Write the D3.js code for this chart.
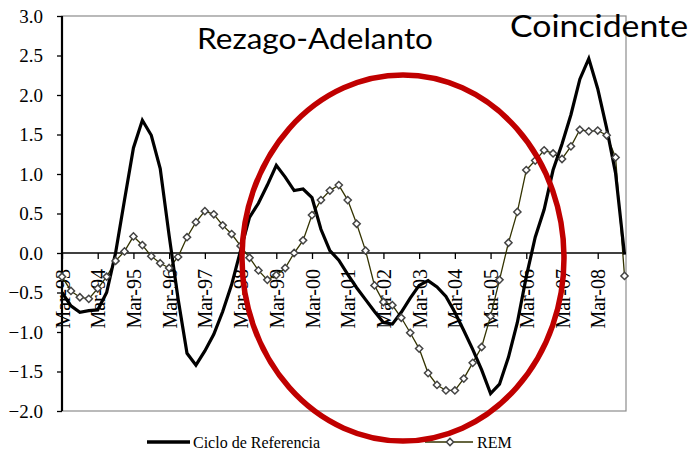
<!DOCTYPE html>
<html>
<head>
<meta charset="utf-8">
<script src="https://cdn.jsdelivr.net/npm/d3@7"></script>
<style>
  body { margin: 0; background: #fff; }
  svg { display: block; }
</style>
</head>
<body>
<svg id="chart" width="696" height="452"></svg>
<script>
// quarterly categories, Mar-93 .. Dec-08
var years = ["93","94","95","96","97","98","99","00","01","02","03","04","05","06","07","08"];
var months = ["Mar","Jun","Sep","Dec"];
var categories = [];
years.forEach(function(yy) {
    months.forEach(function(m) { categories.push(m + "-" + yy); });
});

var tickLabels = ["Mar-93","Mar-94","Mar-95","Mar-96","Mar-97","Mar-98","Mar-99","Mar-00",
                  "Mar-01","Mar-02","Mar-03","Mar-04","Mar-05","Mar-06","Mar-07","Mar-08"];

var yTicks = [3.0, 2.5, 2.0, 1.5, 1.0, 0.5, 0.0, -0.5, -1.0, -1.5, -2.0];

// Ciclo de Referencia
var cicloRef = [
 -0.50, -0.67, -0.75, -0.73, -0.72, -0.50,  0.00,  0.67,
  1.33,  1.68,  1.49,  1.07,  0.22, -0.58, -1.27, -1.42,
 -1.24, -1.03, -0.74, -0.40,  0.03,  0.45,  0.63,  0.86,
  1.11,  0.96,  0.79,  0.81,  0.70,  0.30,  0.03, -0.09,
 -0.27, -0.44, -0.59, -0.74, -0.88, -0.90, -0.75, -0.57,
 -0.41, -0.35, -0.43, -0.55, -0.75, -0.98, -1.22, -1.48,
 -1.78, -1.66, -1.32, -0.88, -0.30,  0.20,  0.55,  1.05,
  1.38,  1.75,  2.20,  2.46,  2.08,  1.58,  1.01, -0.02
];

// REM
var rem = [
 -0.30, -0.48, -0.56, -0.58, -0.45, -0.30, -0.10,  0.02,
  0.21,  0.10, -0.04, -0.13, -0.19, -0.05,  0.20,  0.39,
  0.53,  0.49,  0.35,  0.24,  0.09, -0.06, -0.22, -0.34,
 -0.28, -0.19,  0.00,  0.16,  0.48,  0.67,  0.79,  0.86,
  0.67,  0.37,  0.03, -0.41, -0.62, -0.66, -0.82, -1.01,
 -1.21, -1.52, -1.67, -1.74, -1.74, -1.59, -1.39, -1.19,
 -0.80, -0.34,  0.13,  0.52,  1.05,  1.17,  1.30,  1.26,
  1.19,  1.35,  1.56,  1.54,  1.55,  1.49,  1.21, -0.29
];

var svg = d3.select("#chart");
var plotL = 62, plotR = 626, plotT = 16, plotB = 411;
var serif = "'Liberation Serif', 'Times New Roman', serif";
var remColor = "#333300";

var x = d3.scalePoint().domain(categories).range([plotL, 624.5]);
var y = d3.scaleLinear().domain([-2, 3]).range([plotB, plotT]);

// plot frame
svg.append("rect")
    .attr("x", plotL).attr("y", plotT)
    .attr("width", plotR - plotL).attr("height", plotB - plotT)
    .attr("fill", "none").attr("stroke", "#8c8c8c").attr("stroke-width", 1.2);

// y axis
var yAxis = svg.append("g").attr("transform", "translate(" + plotL + ",0)")
    .call(d3.axisLeft(y).tickValues(yTicks).tickSize(5).tickPadding(14)
        .tickFormat(d3.format(".1f")));
yAxis.select(".domain").attr("stroke", "#000").attr("stroke-width", 2.2)
    .attr("d", "M0," + plotT + "V" + plotB);
yAxis.selectAll(".tick line").attr("stroke", "#000").attr("stroke-width", 1.3);
yAxis.selectAll("text")
    .attr("font-family", serif)
    .attr("font-size", 19).attr("fill", "#000");

// x axis at zero
var xAxis = svg.append("g").attr("transform", "translate(0," + y(0) + ")")
    .call(d3.axisBottom(x)
        .tickValues(categories.filter(function(d) { return tickLabels.indexOf(d) >= 0; }))
        .tickSize(6).tickSizeOuter(0));
xAxis.select(".domain").attr("stroke", "#000").attr("stroke-width", 1.6)
    .attr("d", "M" + plotL + ",0H" + plotR);
xAxis.selectAll(".tick line").attr("stroke", "#000").attr("stroke-width", 1.3);
xAxis.selectAll("text")
    .attr("font-family", serif)
    .attr("font-size", 20).attr("fill", "#000")
    .attr("text-anchor", "end")
    .attr("transform", "translate(7,16) rotate(-90)")
    .attr("x", 0).attr("y", 0).attr("dy", 0);

var line = function(vals) {
    return d3.line()
        .x(function(d, i) { return x(categories[i]); })
        .y(function(d) { return y(d); })(vals);
};

// REM line
svg.append("path").attr("d", line(rem))
    .attr("fill", "none").attr("stroke", remColor).attr("stroke-width", 1.3);

// Ciclo de Referencia line
svg.append("path").attr("d", line(cicloRef))
    .attr("fill", "none").attr("stroke", "#000").attr("stroke-width", 3.2)
    .attr("stroke-linejoin", "miter");

var diamond = "M0,-3.6L3.6,0L0,3.6L-3.6,0Z";
svg.selectAll("path.rem-pt").data(rem).enter().append("path")
    .attr("class", "rem-pt")
    .attr("d", diamond)
    .attr("transform", function(d, i) { return "translate(" + x(categories[i]) + "," + y(d) + ")"; })
    .attr("fill", "#fff").attr("stroke", "#444").attr("stroke-width", 1.5);

// legend
svg.append("line").attr("x1", 147).attr("x2", 190).attr("y1", 442).attr("y2", 442)
    .attr("stroke", "#000").attr("stroke-width", 3.5);
svg.append("text").attr("x", 193).attr("y", 448).text("Ciclo de Referencia")
    .attr("font-family", serif).attr("font-size", 16);
svg.append("line").attr("x1", 425).attr("x2", 473).attr("y1", 442).attr("y2", 442)
    .attr("stroke", remColor).attr("stroke-width", 1.3);
svg.append("path").attr("d", diamond).attr("transform", "translate(450,442)")
    .attr("fill", "#fff").attr("stroke", "#444").attr("stroke-width", 1.5);
svg.append("text").attr("x", 477).attr("y", 448).text("REM")
    .attr("font-family", serif).attr("font-size", 16);

// annotations
svg.append("ellipse").attr("cx", 403).attr("cy", 258).attr("rx", 161).attr("ry", 183)
    .attr("fill", "none").attr("stroke", "#c00000").attr("stroke-width", 5.5);

svg.append("text").attr("x", 197).attr("y", 49).text("Rezago-Adelanto")
    .attr("font-family", "Lato, 'Open Sans', sans-serif").attr("font-size", 28)
    .attr("textLength", 236).attr("lengthAdjust", "spacingAndGlyphs");
svg.append("text").attr("x", 510).attr("y", 37).text("Coincidente")
    .attr("font-family", "Lato, 'Open Sans', sans-serif").attr("font-size", 30)
    .attr("textLength", 178).attr("lengthAdjust", "spacingAndGlyphs");
</script>
</body>
</html>
